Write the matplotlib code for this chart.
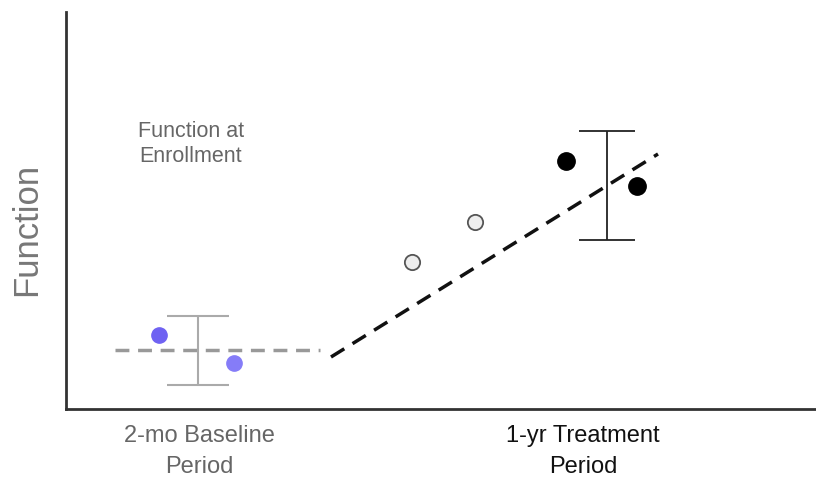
import numpy as np
import matplotlib.pyplot as plt

# values (arbitrary "function" units)
baseline_x = [159, 234]
baseline_y = [145, 117]
baseline_bar_x = 198
baseline_bar_lo, baseline_bar_hi = 95, 164
baseline_trend_x = [115, 320]
baseline_trend_y = [130, 130]

treat_light_x = [412, 475]
treat_light_y = [218, 258]
treat_dark_x = [566, 637]
treat_dark_y = [319, 294]
treat_bar_x = 607
treat_bar_lo, treat_bar_hi = 240, 349
treat_trend_x = [331, 658]
treat_trend_y = [123, 326]

period_pos = [199, 583]
period_labels = ['2-mo Baseline\nPeriod', '1-yr Treatment\nPeriod']
period_colors = ['#666666', '#111111']

plt.rcParams['font.family'] = ['Liberation Sans', 'DejaVu Sans']

fig = plt.figure(figsize=(8.16, 4.81), dpi=100)
ax = fig.add_axes([66/816, 71/481, 750/816, 397/481])
ax.set_xlim(66, 816)
ax.set_ylim(71, 468)

# baseline period
ax.plot(baseline_trend_x, baseline_trend_y, color='#999999', lw=2.5,
        dashes=(4, 2.5))
ax.errorbar([baseline_bar_x], [(baseline_bar_lo + baseline_bar_hi) / 2],
            yerr=[[(baseline_bar_hi - baseline_bar_lo) / 2]],
            fmt='none', ecolor='#aaaaaa', elinewidth=1.5, capsize=22, capthick=1.5)
ax.plot(baseline_x[:1], baseline_y[:1], 'o', color='#6f62f2', ms=11)
ax.plot(baseline_x[1:], baseline_y[1:], 'o', color='#857cf8', ms=11)

# treatment period
ax.plot(treat_trend_x, treat_trend_y, color='#111111', lw=2.5, dashes=(4.5, 2.8))
ax.errorbar([treat_bar_x], [(treat_bar_lo + treat_bar_hi) / 2],
            yerr=[[(treat_bar_hi - treat_bar_lo) / 2]],
            fmt='none', ecolor='#222222', elinewidth=1.3, capsize=20, capthick=1.3)
ax.plot(treat_light_x, treat_light_y, 'o', color='#eeeeee', ms=11,
        mec='#555555', mew=1.3)
ax.plot(treat_dark_x, treat_dark_y, 'o', color='black', ms=12.5)

ax.text(191, 337, 'Function at\nEnrollment', ha='center', va='center',
        fontsize=15.5, color='#666666', linespacing=1.25)

for s in ['top', 'right']:
    ax.spines[s].set_visible(False)
for s in ['left', 'bottom']:
    ax.spines[s].set_color('#333333')
    ax.spines[s].set_linewidth(2)

ax.set_yticks([])
ax.set_xticks(period_pos)
ax.set_xticklabels(period_labels, fontsize=17, linespacing=1.5)
ax.tick_params(axis='x', length=0, pad=11)
for lab, c in zip(ax.get_xticklabels(), period_colors):
    lab.set_color(c)

ax.set_ylabel('Function', fontsize=25, color='#777777')
ax.yaxis.set_label_coords(-0.03, 0.455)

fig.savefig('out.png', dpi=100)
